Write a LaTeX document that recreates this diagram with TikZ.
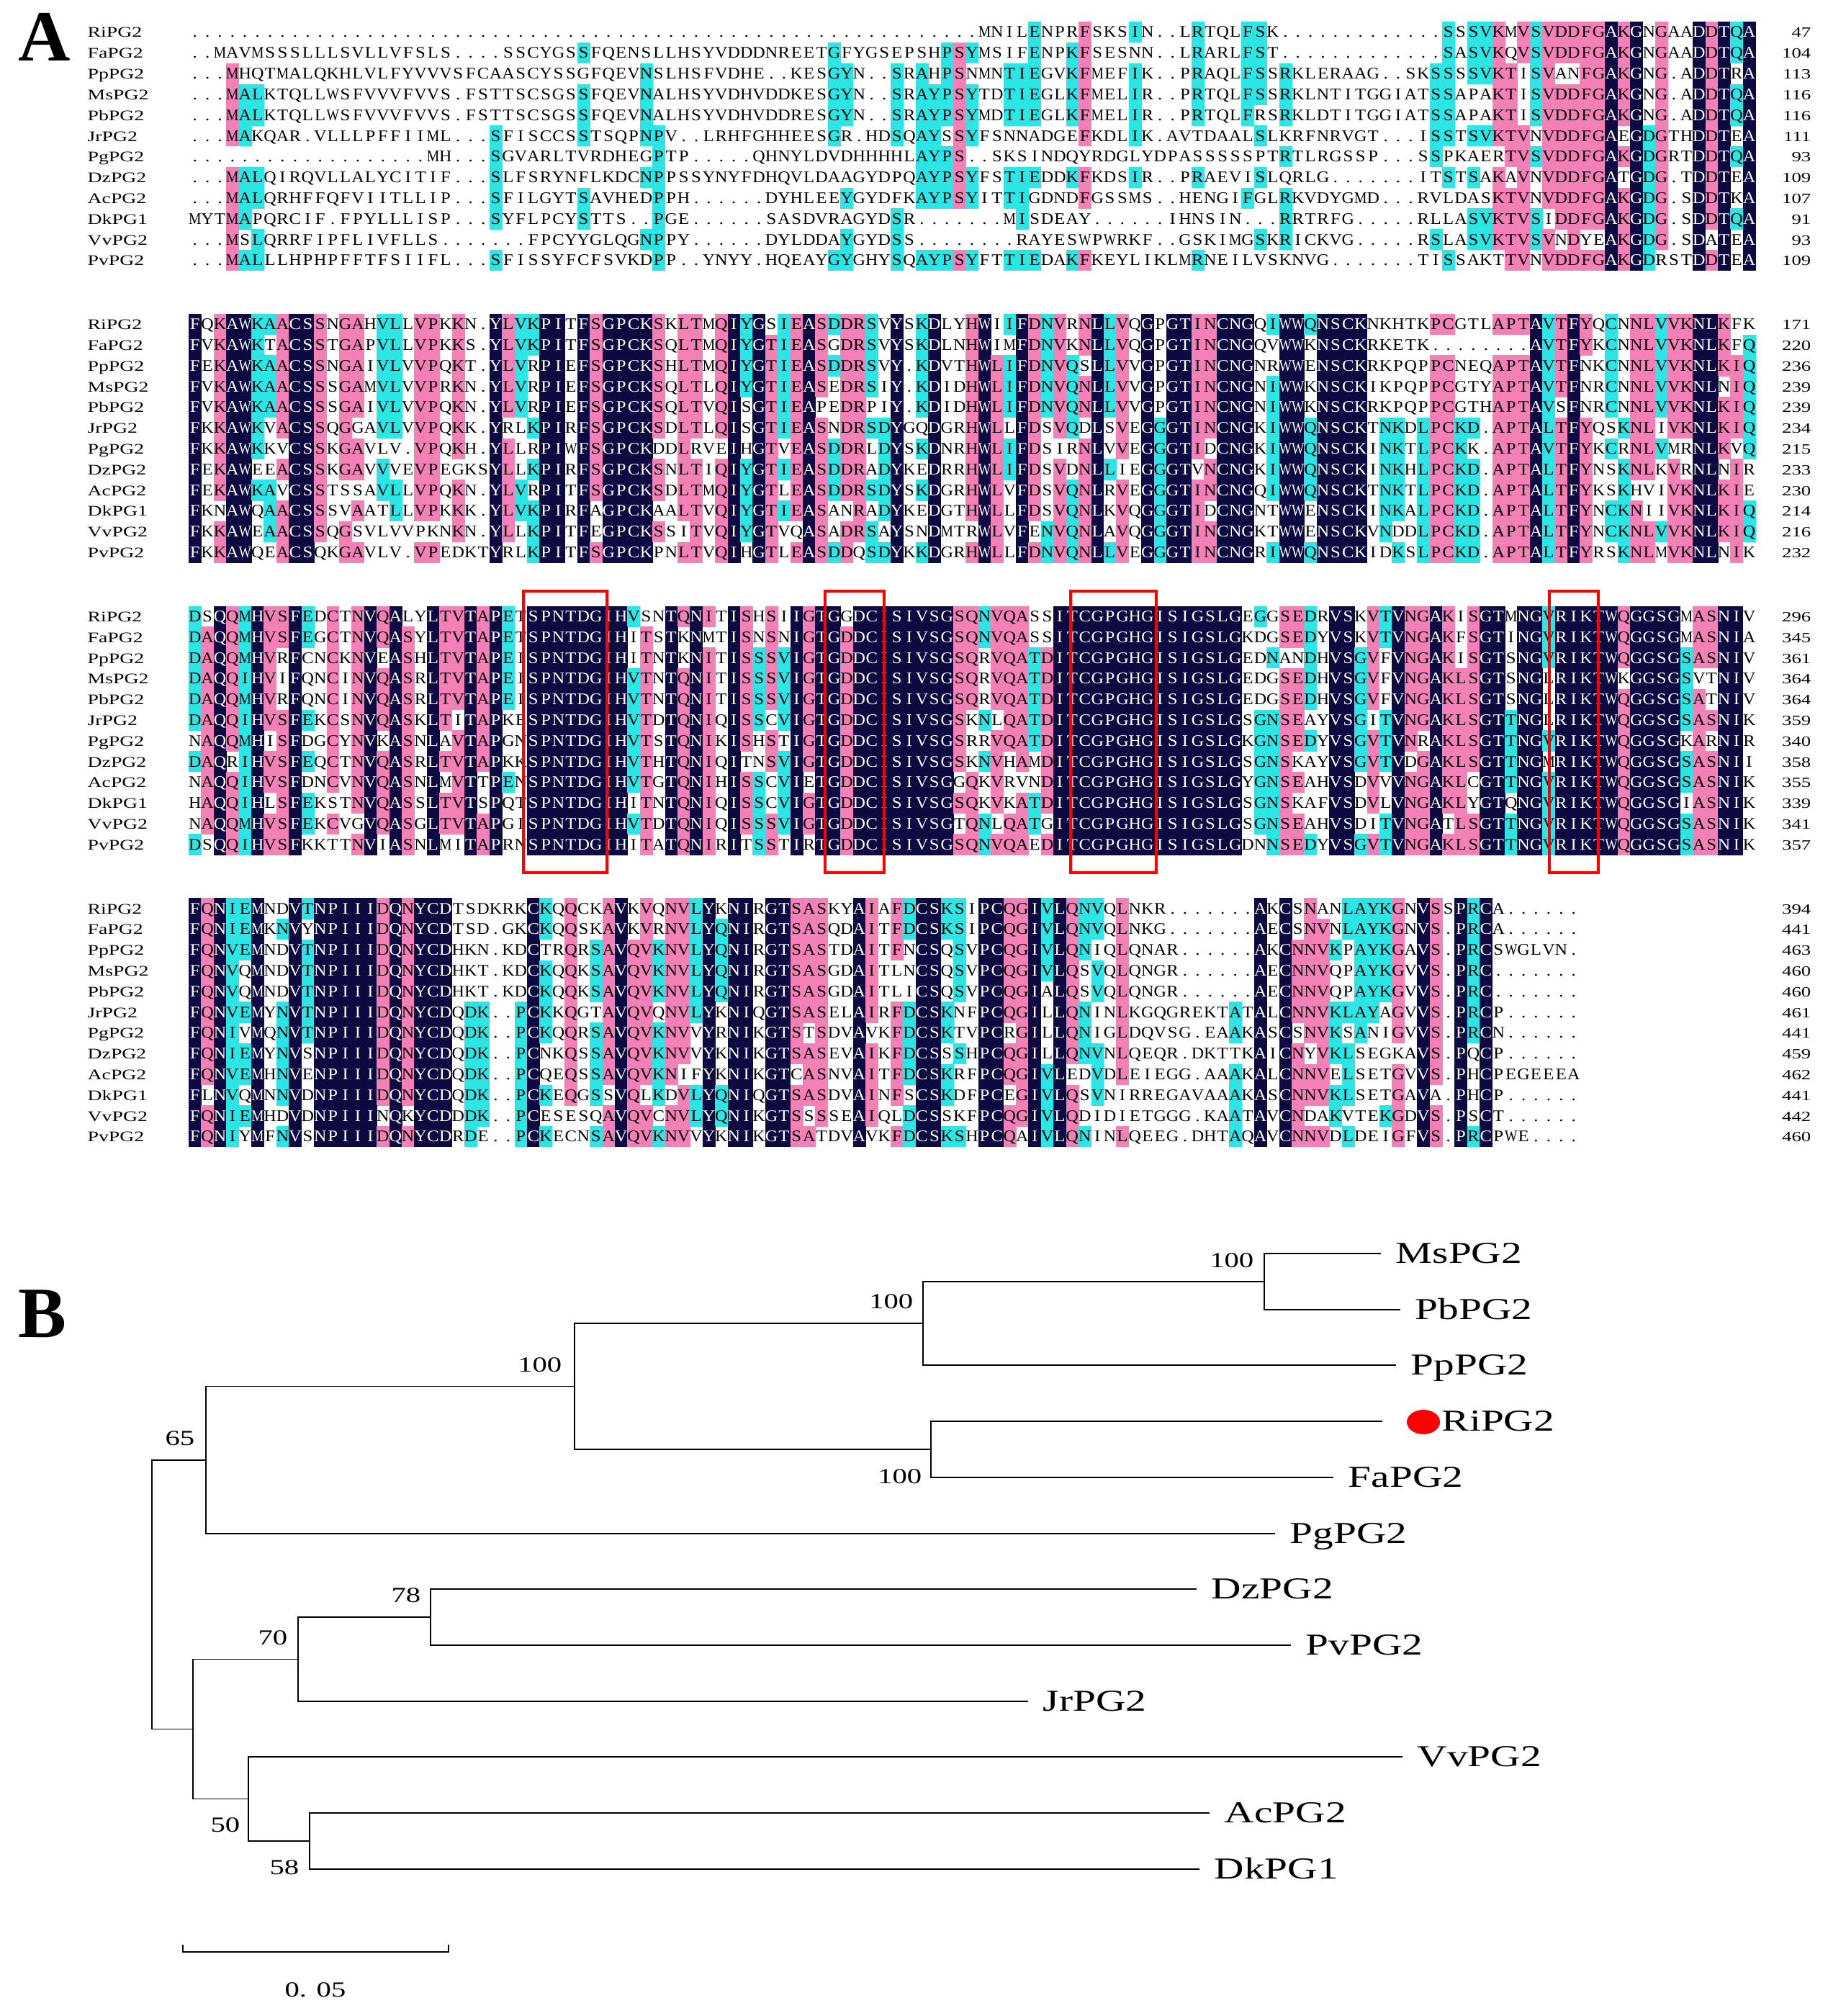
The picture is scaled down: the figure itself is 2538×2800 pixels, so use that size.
\documentclass[tikz,border=0pt]{standalone}
\usepackage{fontspec}
\setmainfont{Liberation Serif}
\newfontfamily\resfont[FakeStretch=1.1]{Liberation Serif}
\newfontfamily\widefont[FakeStretch=1.36]{Liberation Serif}
\usetikzlibrary{positioning}

\definecolor{alnnavy}{RGB}{12,10,64}
\definecolor{alnpink}{RGB}{243,128,182}
\definecolor{alncyan}{RGB}{44,230,230}

% one column of the alignment
\newlength\cellw
\setlength\cellw{0.174cm}
\newsavebox\alnbox
\newcommand\fitchar[1]{\sbox\alnbox{#1}\ifdim\wd\alnbox>\cellw\resizebox{\cellw}{\height}{#1}\else#1\fi}
\newcommand\alncell[3]{\makebox[0pt][l]{\textcolor{#1}{\rule[-0.074cm]{\dimexpr\cellw+0.15pt\relax}{0.292cm}}}\makebox[\cellw][c]{\textcolor{#2}{\fitchar{#3}}}}
\newcommand\alnplain[1]{\makebox[\cellw][c]{\fitchar{#1}}}

\ExplSyntaxOn
\int_new:N \l_aln_c_int
\int_new:N \l_aln_n_int
\tl_new:N \l_aln_num_tl
\tl_new:N \l_aln_row_tl
\tl_new:N \l_aln_ch_tl
\cs_new_protected:Npn \aln_put:nnn #1#2#3
  {
    \cs_gset:cpn { aln@#1@#2@ \int_use:N \l_aln_c_int } {#3}
    \int_incr:N \l_aln_c_int
  }
% \alnstore{block}{row}{residues}, "12." stands for twelve gaps
\NewDocumentCommand \alnstore { m m m }
  {
    \int_zero:N \l_aln_c_int
    \tl_clear:N \l_aln_num_tl
    \tl_map_inline:nn {#3}
      {
        \tl_if_in:nnTF { 0123456789 } {##1}
          { \tl_put_right:Nn \l_aln_num_tl {##1} }
          {
            \tl_if_empty:NTF \l_aln_num_tl
              { \aln_put:nnn {#1} {#2} {##1} }
              {
                \prg_replicate:nn { \l_aln_num_tl } { \aln_put:nnn {#1} {#2} {##1} }
                \tl_clear:N \l_aln_num_tl
              }
          }
      }
    \cs_gset:cpx { aln@#1@len } { \int_use:N \l_aln_c_int }
  }
% shading: all 12 identical = navy, >= 9 = pink, >= 6 = cyan
\NewDocumentCommand \alnrow { m m }
  {
    \tl_clear:N \l_aln_row_tl
    \int_step_inline:nnn { 0 } { \use:c { aln@#1@len } - 1 }
      {
        \tl_set:Nx \l_aln_ch_tl { \cs_if_exist_use:c { aln@#1@#2@##1 } }
        \str_if_eq:VnTF \l_aln_ch_tl { . }
          { \tl_put_right:Nn \l_aln_row_tl { \alnplain { . } } }
          {
            \int_zero:N \l_aln_n_int
            \int_step_inline:nn { 12 }
              {
                \str_if_eq:eeT { \cs_if_exist_use:c { aln@#1@####1@##1 } } { \l_aln_ch_tl }
                  { \int_incr:N \l_aln_n_int }
              }
            \int_compare:nNnTF \l_aln_n_int > { 11 }
              { \tl_put_right:Nx \l_aln_row_tl { \exp_not:N \alncell { alnnavy } { white } { \l_aln_ch_tl } } }
              {
                \int_compare:nNnTF \l_aln_n_int > { 8 }
                  { \tl_put_right:Nx \l_aln_row_tl { \exp_not:N \alncell { alnpink } { black } { \l_aln_ch_tl } } }
                  {
                    \int_compare:nNnTF \l_aln_n_int > { 5 }
                      { \tl_put_right:Nx \l_aln_row_tl { \exp_not:N \alncell { alncyan } { black } { \l_aln_ch_tl } } }
                      { \tl_put_right:Nx \l_aln_row_tl { \exp_not:N \alnplain { \l_aln_ch_tl } } }
                  }
              }
          }
      }
    \l_aln_row_tl
  }
\ExplSyntaxOff

% block 1
\alnstore{1}{1}{63.MNILENPRFSKSIN2.LRTQLFSK13.SSSVKMVSVDDFGAKGNGAADDTQA}
\alnstore{1}{2}{2.MAVMSSSLLLSVLLVFSLS4.SSCYGSSFQENSLLHSYVDDDNREETGFYGSEPSHPSYMSIFENPKFSESNN2.LRARLFST13.SASVKQVSVDDFGAKGNGAADDTQA}
\alnstore{1}{3}{3.MHQTMALQKHLVLFYVVVSFCAASCYSSGFQEVNSLHSFVDHE2.KESGYN2.SRAHPSNMNTIEGVKFMEFIK2.PRAQLFSSRKLERAAG2.SKSSSSVKTISVANFGAKGNG.ADDTRA}
\alnstore{1}{4}{3.MALKTQLLWSFVVVFVVS.FSTTSCSGSSFQEVNALHSYVDHVDDKESGYN2.SRAYPSYTDTIEGLKFMELIR2.PRTQLFSSRKLNTITGGIATSSAPAKTISVDDFGAKGNG.ADDTQA}
\alnstore{1}{5}{3.MALKTQLLWSFVVVFVVS.FSTTSCSGSSFQEVNALHSYVDHVDDRESGYN2.SRAYPSYMDTIEGLKFMELIR2.PRTQLFRSRKLDTITGGIATSSAPAKTISVDDFGAKGNG.ADDTQA}
\alnstore{1}{6}{3.MAKQAR.VLLLPFFIIML3.SFISCCSSTSQPNPV2.LRHFGHHEESGR.HDSQAYSSYFSNNADGEFKDLIK.AVTDAALSLKRFNRVGT3.ISSTSVKTVNVDDFGAEGDGTHDDTEA}
\alnstore{1}{7}{19.MH3.SGVARLTVRDHEGPTP5.QHNYLDVDHHHHLAYPS2.SKSINDQYRDGLYDPASSSSSPTRTLRGSSP3.SSPKAERTVSVDDFGAKGDGRTDDTQA}
\alnstore{1}{8}{3.MALQIRQVLLALYCITIF3.SLFSRYNFLKDCNPPSSYNYFDHQVLDAAGYDPQAYPSYFSTIEDDKFKDSIR2.PRAEVISLQRLG7.ITSTSAKAVNVDDFGATGDG.TDDTEA}
\alnstore{1}{9}{3.MALQRHFFQFVIITLLIP3.SFILGYTSAVHEDPPH6.DYHLEEYGYDFKAYPSYITTIGDNDFGSSMS2.HENGIFGLRKVDYGMD3.RVLDASKTVNVDDFGAKGDG.SDDTKA}
\alnstore{1}{10}{MYTMAPQRCIF.FPYLLLISP3.SYFLPCYSTTS2.PGE6.SASDVRAGYDSR7.MISDEAY6.IHNSIN3.RRTRFG5.RLLASVKTVSIDDFGAKGDG.SDDTQA}
\alnstore{1}{11}{3.MSLQRRFIPFLIVFLLS7.FPCYYGLQGNPPY6.DYLDDAYGYDSS8.RAYESWPWRKF2.GSKIMGSKRICKVG5.RSLASVKTVSVNDYEAKGDG.SDATEA}
\alnstore{1}{12}{3.MALLLHPHPFFTFSIIFL3.SFISSYFCFSVKDPP2.YNYY.HQEAYGYGHYSQAYPSYFTTIEDAKFKEYLIKLMRNEILVSKNVG7.TISSAKTTVNVDDFGAKGDRSTDDTEA}
% block 2
\alnstore{2}{1}{FQKAWKAACSSNGAHVLLVPKKN.YLVKPITFSGPCKSKLTMQIYGSIEASDDRSVYSKDLYHWIIFDNVRNLLVQGPGTINCNGQIWWQNSCKNKHTKPCGTLAPTAVTFYQCNNLVVKNLKFK}
\alnstore{2}{2}{FVKAWKTACSSTGAPVLLVPKKS.YLVKPITFSGPCKSQLTMQIYGTIEASGDRSVYSKDLNHWIMFDNVKNLLVQGPGTINCNGQVWWKNSCKRKETK8.AVTFYKCNNLVVKNLKFQ}
\alnstore{2}{3}{FEKAWKAACSSNGAIVLVVPQKT.YLVRPIEFSGPCKSHLTMQIYGTIEASDDRSVY.KDVTHWLIFDNVQSLLVVGPGTINCNGNRWWENSCKRKPQPPCNEQAPTAVTFNKCNNLVVKNLKIQ}
\alnstore{2}{4}{FVKAWKAACSSSGAMVLVVPRKN.YLVRPIEFSGPCKSQLTLQIYGTIEASEDRSIY.KDIDHWLIFDNVQNLLVVGPGTINCNGNIWWKNSCKIKPQPPCGTYAPTAVTFNRCNNLVVKNLNIQ}
\alnstore{2}{5}{FVKAWKAACSSSGAIVLVVPQKN.YLVRPIEFSGPCKSQLTVQISGTIEAPEDRPIY.KDIDHWLIFDNVQNLLVVGPGTINCNGNIWWKNSCKRKPQPPCGTHAPTAVSFNRCNNLVVKNLKIQ}
\alnstore{2}{6}{FKKAWKVACSSQGGAVLVVPQKK.YRLKPIRFSGPCKSDLTLQISGTIEASNDRSDYGQDGRHWLLFDSVQDLSVEGGGTINCNGKIWWQNSCKTNKDLPCKD.APTALTFYQSKNLIVKNLKIQ}
\alnstore{2}{7}{FKKAWKKVCSSKGAVLV.VPQKH.YLLRPIWFSGPCKDDLRVEIHGTVEASDDRLDYSKDNRHWLIFDSIRNLVVEGGGTIDCNGKIWWQNSCKINKTLPCKK.APTAVTFYKCRNLVMRNLKVQ}
\alnstore{2}{8}{FEKAWEEACSSKGAVVVEVPEGKSYLLKPIRFSGPCKSNLTIQIYGTIEASDDRADYKEDRRHWLIFDSVDNLLIEGGGTVNCNGKIWWQNSCKINKHLPCKD.APTALTFYNSKNLKVRNLNIR}
\alnstore{2}{9}{FEKAWKAVCSSTSSAVLLVPQKN.YLVRPITFSGPCKSDLTMQIYGTLEASDDRSDYSKDGRHWLVFDSVQNLRVEGGGTINCNGQIWWQNSCKTNKTLPCKD.APTALTFYKSKHVIVKNLKIE}
\alnstore{2}{10}{FKNAWQAACSSSVAATLLVPKKK.YLVKPIRFAGPCKAALTVQIYGTIEASANRADYKEDGTHWLLFDSVQNLKVQGGGTIDCNGNTWWENSCKINKALPCKD.APTALTFYNCKNIIVKNLKIQ}
\alnstore{2}{11}{FKKAWEAACSSQGSVLVVPKNKN.YLLKPITFEGPCKSSITVQIYGTVQASADRSAYSNDMTRWLVFENVQNLAVQGGGTINCNGKTWWENSCKVNDDLPCKD.APTALTFYNCKNLVVKNLKIQ}
\alnstore{2}{12}{FKKAWQEACSQKGAVLV.VPEDKTYRLKPITFSGPCKPNLTVQIHGTLEASDDQSDYKKDGRHWLLFDNVQNLLVEGGGTINCNGRIWWQNSCKIDKSLPCKD.APTALTFYRSKNLMVKNLNIK}
% block 3
\alnstore{3}{1}{DSQQMHVSFEDCTNVQALYLTVTAPETSPNTDGIHVSNTQNITISHSIIGTGGDCISIVSGSQNVQASSITCGPGHGISIGSLGEGGSEDRVSKVTVNGAKISGTMNGVRIKTWQGGSGMASNIV}
\alnstore{3}{2}{DAQQMHVSFEGCTNVQASYLTVTAPETSPNTDGIHITSTKNMTISNSNIGTGDDCISIVSGSQNVQASSITCGPGHGISIGSLGKDGSEDYVSKVTVNGAKFSGTINGVRIKTWQGGSGMASNIA}
\alnstore{3}{3}{DAQQMHVRFCNCKNVEASHLTVTAPEISPNTDGIHITNTKNITISSSVIGTGDDCISIVSGSQRVQATDITCGPGHGISIGSLGEDNANDHVSGVFVNGAKISGTSNGVRIKTWQGGSGSASNIV}
\alnstore{3}{4}{DAQQIHVIFQNCINVQASRLTVTAPEISPNTDGIHVTNTQNITISSSVIGTGDDCISIVSGSQRVQATDITCGPGHGISIGSLGEDGSEDHVSGVFVNGAKLSGTSNGLRIKTWKGGSGSVTNIV}
\alnstore{3}{5}{DAQQMHVRFQNCINVQASRLTVTAPEISPNTDGIHVTNTQNITISSSVIGTGDDCISIVSGSQRVQATDITCGPGHGISIGSLGEDGSEDHVSGVFVNGAKLSGTSNGLRIKTWQGGSGSATNIV}
\alnstore{3}{6}{DAQQIHVSFEKCSNVQASKLTITAPKESPNTDGIHVTDTQNIQISSCVIGTGDDCISIVSGSKNLQATDITCGPGHGISIGSLGSGNSEAYVSGITVNGAKLSGTTNGLRIKTWQGGSGSASNIK}
\alnstore{3}{7}{NAQQMHISFDGCYNVKASNLAVTAPGNSPNTDGIHVTSTQNIKISHSTIGTGDDCISIVSGSRRVQATDITCGPGHGISIGSLGKGNSEDYVSGVTVNRAKLSGTTNGVRIKTWQGGSGKARNIR}
\alnstore{3}{8}{DAQRIHVSFEQCTNVQASRLTVTAPKKSPNTDGIHVTHTQNIQITNSVIGTGDDCISIVSGSKNVHAMDITCGPGHGISIGSLGSGNSKAYVSGVTVDGAKLSGTTNGMRIKTWQGGSGSASNII}
\alnstore{3}{9}{NAQQIHVSFDNCVNVQASNLMVTTPENSPNTDGIHVTGTQNIHISSCVIETGDDCISIVSGGQKVRVNDITCGPGHGISIGSLGYGNSEAHVSDVVVNGAKLCGTTNGVRIKTWQGGSGSASNIK}
\alnstore{3}{10}{HAQQIHLSFEKSTNVQASSLTVTSPQTSPNTDGIHITNTQNIQISSCVIGTGDDCISIVSGSQKVKATDITCGPGHGISIGSLGSGNSKAFVSDVLVNGAKLYGTQNGVRIKTWQGGSGIASNIK}
\alnstore{3}{11}{NAQQMHVSFEKCVGVQASGLTVTAPGISPNTDGIHVTDTQNIQISSSVIGTGDDCISIVSGTQNLQATGITCGPGHGISIGSLGSGNSEAHVSDITVNGATLSGTTNGVRIKTWQGGSGSASNIK}
\alnstore{3}{12}{DSQQIHVSFKKTTNVIASNLMITAPRNSPNTDGIHITATQNIRITSSTIRTGDDCISIVSGSQNVQAEDITCGPGHGISIGSLGDNNSEDYVSGVTVNGAKLSGTTNGVRIKTWQGGSGSASNIK}
% block 4
\alnstore{4}{1}{FQNIEMNDVTNPIIIDQNYCDTSDKRKCKQQCKAVKVQNVLYKNIRGTSASKYAIAFDCSKSIPCQGIVLQNVQLNKR7.AKCSNANLAYKGNVSSPRCA6.}
\alnstore{4}{2}{FQNIEMKNVYNPIIIDQNYCDTSD.GKCKQQSKAVKVRNVLYQNIRGTSASQDAITFDCSKSIPCQGIVLQNVQLNKG7.AECSNVNLAYKGNVS.PRCA6.}
\alnstore{4}{3}{FQNVEMNDVTNPIIIDQNYCDHKN.KDCTRQRSAVQVKNVLYQNIRGTSASTDAITFNCSQSVPCQGIVLQNIQLQNAR6.AKCNNVKPAYKGAVS.PRCSWGLVN.}
\alnstore{4}{4}{FQNVQMNDVTNPIIIDQNYCDHKT.KDCKQQKSAVQVKNVLYQNIRGTSASGDAITLNCSQSVPCQGIVLQSVQLQNGR6.AECNNVQPAYKGVVS.PRC7.}
\alnstore{4}{5}{FQNVQMNDVTNPIIIDQNYCDHKT.KDCKQQKSAVQVKNVLYQNIRGTSASGDAITLICSQSVPCQGIALQSVQLQNGR6.AECNNVQPAYKGVVS.PRC7.}
\alnstore{4}{6}{FQNVEMYNVTNPIIIDQNYCDQDK2.PCKKQGTAVQVQNVLYKNIQGTSASELAIRFDCSKNFPCQGILLQNINLKGQGREKTATALCNNVKLAYAGVVS.PRCP6.}
\alnstore{4}{7}{FQNIVMQNVTNPIIIDQNYCDQDK2.PCKQQRSAVQVKNVVYRNIKGTSTSDVAVKFDCSKTVPCRGILLQNIGLDQVSG.EAAKASCSNVKSANIGVVS.PRCN6.}
\alnstore{4}{8}{FQNIEMYNVSNPIIIDQNYCDQDK2.PCNKQSSAVQVKNVVYKNIKGTSASEVAIKFDCSSSHPCQGILLQNVNLQEQR.DKTTKAICNYVKLSEGKAVS.PQCP6.}
\alnstore{4}{9}{FQNVEMHNVENPIIIDQNYCDQDK2.PCQEQSSAVQVKNIFYKNIKGTCASNVAITFDCSKRFPCQGIVLEDVDLEIEGG.AAAKALCNNVELSETGVVS.PHCPEGEEEA}
\alnstore{4}{10}{FLNVQMNNVDNPIIIDQNYCDQDK2.PCKEQGSSVQLKDVLYQNIQGTSASDVAINFSCSKDFPCEGIVLQSVNIRREGAVAAAKASCNNVKLSETGAVA.PHCP6.}
\alnstore{4}{11}{FQNIEMHDVDNPIIINQKYCDDDK2.PCESESQAVQVCNVLYQNIKGTSSSSEAIQLDCSSKFPCQGIVLQDIDIETGGG.KAATAVCNDAKVTEKGDVS.PSCT6.}
\alnstore{4}{12}{FQNIYMFNVSNPIIIDQNYCDRDE2.PCKECNSAVQVKNVVYKNIKGTSATDVAVKFDCSKSHPCQAIVLQNINLQEEG.DHTAQAVCNNVDLDEIGFVS.PRCPWE4.}

\begin{document}
\begin{tikzpicture}[x=0.01cm, y=-0.01cm,
  panel/.style={anchor=north west, inner sep=0pt, font=\bfseries\fontsize{28.5}{30}\selectfont},
  res/.style={anchor=base west, inner sep=0pt, font=\resfont\fontsize{6.4}{7}\selectfont},
  seqname/.style={anchor=base west, inner sep=0pt, font=\widefont\fontsize{5.8}{7}\selectfont},
  seqnum/.style={anchor=base east, inner sep=0pt, font=\widefont\fontsize{5.6}{7}\selectfont},
  motif/.style={draw=red, line width=1pt},
  branch/.style={line width=0.55pt},
  leaflbl/.style={inner sep=0pt, text height=7.9pt, text depth=0pt, font=\widefont\fontsize{12}{14}\selectfont},
  boot/.style={anchor=east, inner sep=0pt, text height=5.8pt, text depth=0pt, font=\widefont\fontsize{8.5}{10}\selectfont}]
\fill[white] (0,0) rectangle (2538,2800);
\useasboundingbox (0,0) rectangle (2538,2800);

% A: alignment
\node[panel] (lblA) at (25,18) {A};
\foreach \blk/\yy/\nums in {1/52/{47,104,113,116,116,111,93,109,107,91,93,109},
    2/457.7/{171,220,236,239,239,234,215,233,230,214,216,232},
    3/863.4/{296,345,361,364,364,359,340,358,355,339,341,357},
    4/1269.1/{394,441,463,460,460,461,441,459,462,441,442,460}} {
  \foreach \nm [count=\row] in {RiPG2,FaPG2,PpPG2,MsPG2,PbPG2,JrPG2,PgPG2,DzPG2,AcPG2,DkPG1,VvPG2,PvPG2} {
    \node[seqname] (name\blk-\row) at (121,\yy+28.8*\row-28.8) {\nm};
    \node[res] (seq\blk-\row) at (261.3,\yy+28.8*\row-28.8) {\alnrow{\blk}{\row}};
  }
  \foreach \num [count=\row] in \nums
    \node[seqnum] (num\blk-\row) at (2516,\yy+28.8*\row-28.8) {\num};
}
% conserved motifs
\foreach \xa/\xb in {727/843, 1146/1228, 1487/1606, 2152/2220}
  \draw[motif] (\xa,821) rectangle (\xb,1212);

% B: tree
\node[panel] (lblB) at (25,1791) {B};
\foreach \n/\x/\y in {ms/1918/1741, pb/1945/1819, pp/1939/1896, ri/1920/1974,
    fa/1852/2052, pg/1771/2130, dz/1662/2207, pv/1793/2285, jr/1428/2363,
    vv/1948/2440, ac/1680/2518, dk/1666/2596}
  \coordinate (\n) at (\x,\y);
\foreach \n/\x/\y in {nMsPb/1756/1780, nPp/1282/1838, nRiFa/1293/2013, nRos/798/1925.5,
    nPg/286/2028, nDzPv/598/2246, nJr/414/2304.5, nAcDk/430/2557, nVv/345/2498.5,
    nLow/268/2401.5, root/211/2215}
  \coordinate (\n) at (\x,\y);
\foreach \pa/\ch in {nMsPb/ms, nMsPb/pb, nPp/nMsPb, nPp/pp, nRiFa/ri, nRiFa/fa,
    nRos/nPp, nRos/nRiFa, nPg/nRos, nPg/pg, nDzPv/dz, nDzPv/pv, nJr/nDzPv, nJr/jr,
    nAcDk/ac, nAcDk/dk, nVv/vv, nVv/nAcDk, nLow/nJr, nLow/nVv, root/nPg, root/nLow}
  \draw[branch] (\pa) |- (\ch);
\foreach \n/\lab in {ms/MsPG2, pb/PbPG2, pp/PpPG2, fa/FaPG2, pg/PgPG2, dz/DzPG2,
    pv/PvPG2, jr/JrPG2, vv/VvPG2, ac/AcPG2, dk/DkPG1}
  \node[leaflbl, right=0.2cm of \n] (l\n) {\lab};
\node[leaflbl, right=0.82cm of ri] (lri) {RiPG2};
\fill[red] (ri) ++(57,1) ellipse [x radius=23, y radius=17];
% bootstrap values
\foreach \n/\dx/\dy/\lab in {nMsPb/-14/-30/100, nPp/-13/-31/100, nRos/-17/-30/100,
    nRiFa/-12/37/100, nPg/-15/-31/65, nDzPv/-13/-31/78, nJr/-14/-30/70,
    nVv/-11/36/50, nAcDk/-14/36/58}
  \node[boot] (b\n) at ([shift={(\dx,\dy)}]\n) {\lab};
% scale bar
\coordinate (sbl) at (254,2711);
\coordinate (sbr) at (623,2711);
\draw[branch] (sbl) ++(0,-10) -- (sbl) -- (sbr) -- ++(0,-10);
\node[boot, anchor=center] (sblbl) at (438,2763) {0. 05};
\end{tikzpicture}
\end{document}
